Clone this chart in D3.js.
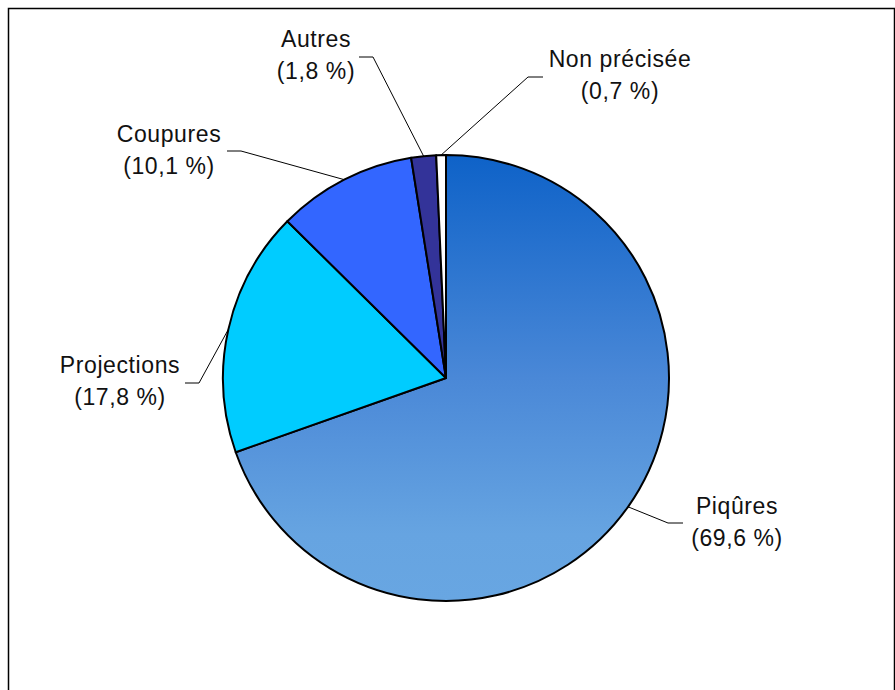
<!DOCTYPE html>
<html>
<head>
<meta charset="utf-8">
<script src="https://cdn.jsdelivr.net/npm/d3@7"></script>
<style>
  html, body { margin: 0; padding: 0; background: #fff; }
  svg { display: block; }
  text { font-family: "Liberation Sans", Arial, sans-serif; font-size: 23px; letter-spacing: 0.6px; fill: #111; }
</style>
</head>
<body>
<svg id="chart" width="895" height="690"></svg>
<script>
// ---- data ----
const categories = ["Piqûres", "Projections", "Coupures", "Autres", "Non précisée"];
const values = [69.6, 17.8, 10.1, 1.8, 0.7];
const fills = ["url(#gradPiq)", "#00CCFF", "#3366FF", "#333399", "#FFFFFF"];

// ---- label layout (elbow point, end of horizontal stub, text centre / first baseline) ----
const labelLayout = [
  { elbow: [668, 523], end: [683, 523], text: [737, 514] },
  { elbow: [199, 383], end: [185, 383], text: [120, 373] },
  { elbow: [241, 151], end: [227, 151], text: [169, 142] },
  { elbow: [373, 57],  end: [359, 57],  text: [316, 47] },
  { elbow: [528, 77],  end: [543, 77],  text: [620, 67] }
];
const lineGap = 32;

const cx = 446, cy = 378, R = 223;

const svg = d3.select("#chart");

// frame (extends beyond right/bottom of the window)
svg.append("rect")
  .attr("x", 8.5).attr("y", 8.5)
  .attr("width", 886).attr("height", 700)
  .attr("fill", "none").attr("stroke", "#000").attr("stroke-width", 1.5);

const defs = svg.append("defs");
const grad = defs.append("linearGradient")
  .attr("id", "gradPiq")
  .attr("gradientUnits", "userSpaceOnUse")
  .attr("x1", 0).attr("y1", -R).attr("x2", 0).attr("y2", R);
grad.append("stop").attr("offset", "0").attr("stop-color", "#0E62C8");
grad.append("stop").attr("offset", "0.5").attr("stop-color", "#4A88D7");
grad.append("stop").attr("offset", "0.85").attr("stop-color", "#66A4E1");
grad.append("stop").attr("offset", "1").attr("stop-color", "#68A6E2");

const pie = d3.pie().sort(null).value(d => d);
const arcs = pie(values);
const arc = d3.arc().innerRadius(0).outerRadius(R);
const edgeArc = d3.arc().innerRadius(R).outerRadius(R);

const g = svg.append("g").attr("transform", `translate(${cx},${cy})`);

g.selectAll("path.slice")
  .data(arcs)
  .enter().append("path")
  .attr("class", "slice")
  .attr("d", arc)
  .attr("fill", (d, i) => fills[i])
  .attr("stroke", "#000")
  .attr("stroke-width", 2)
  .attr("stroke-linejoin", "round");

const fmt = v => "(" + d3.format(".1f")(v).replace(".", ",") + " %)";

// leader lines
svg.selectAll("path.leader")
  .data(arcs)
  .enter().append("path")
  .attr("class", "leader")
  .attr("fill", "none")
  .attr("stroke", "#000")
  .attr("stroke-width", 1)
  .attr("d", (d, i) => {
    const c = edgeArc.centroid(d);
    const L = labelLayout[i];
    return d3.line()([[cx + c[0], cy + c[1]], L.elbow, L.end]);
  });

// labels
const lab = svg.selectAll("text.lab")
  .data(arcs)
  .enter().append("text")
  .attr("class", "lab")
  .attr("text-anchor", "middle");
lab.append("tspan")
  .attr("x", (d, i) => labelLayout[i].text[0])
  .attr("y", (d, i) => labelLayout[i].text[1])
  .text((d, i) => categories[i]);
lab.append("tspan")
  .attr("x", (d, i) => labelLayout[i].text[0])
  .attr("y", (d, i) => labelLayout[i].text[1] + lineGap)
  .text((d, i) => fmt(values[i]));
</script>
</body>
</html>
